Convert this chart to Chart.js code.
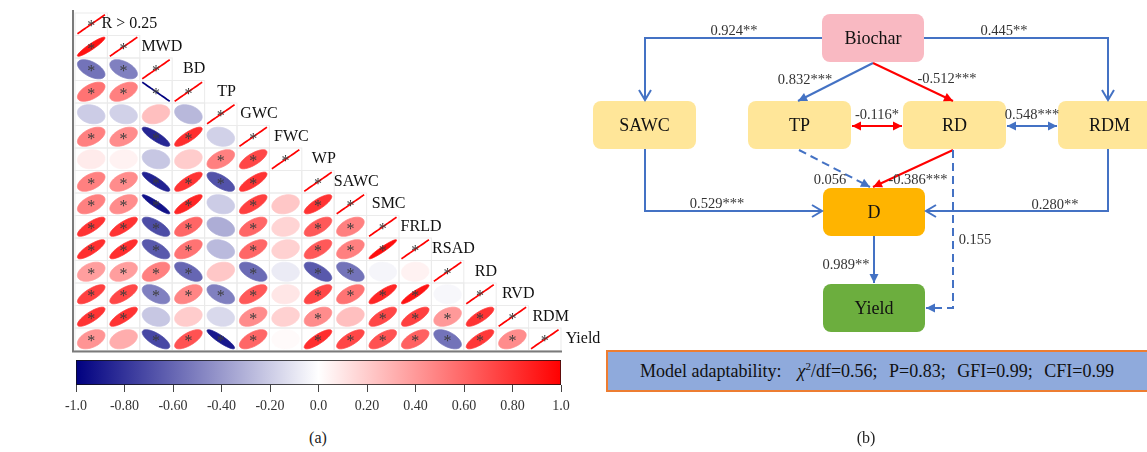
<!DOCTYPE html>
<html>
<head>
<meta charset="utf-8">
<script src="https://cdn.jsdelivr.net/npm/chart.js@4.4.1/dist/chart.umd.min.js"></script>
<style>
  html, body { margin: 0; padding: 0; background: #fff; width: 1147px; height: 452px; overflow: hidden; }
  body { position: relative; font-family: "Liberation Serif", "Times New Roman", serif; }
  .pane { position: absolute; }
  .caption { position: absolute; font-size: 16px; color: #222; transform: translate(-50%, -50%); white-space: nowrap; }
  #fitBox { position: absolute; left: 606px; top: 350px; width: 560px; height: 42px; background: #8FAADC;
            border: 2px solid #ED7D31; box-sizing: border-box; font-size: 18px; color: #111; line-height: 38px;
            padding-left: 32px; white-space: nowrap; }
  #fitBox sup { font-size: 11px; line-height: 0; }
  #fitBox .stats { margin-left: 16px; word-spacing: 7px; }
</style>
</head>
<body>
<div class="pane" style="left:0;top:0;width:615px;height:356px"><canvas id="matrix"></canvas></div>
<div class="pane" style="left:0;top:350px;width:615px;height:75px"><canvas id="colorbar"></canvas></div>
<div class="pane" style="left:590px;top:0;width:557px;height:452px"><canvas id="path"></canvas></div>
<div id="fitBox"></div>
<div class="caption" style="left:318px;top:438px">(a)</div>
<div class="caption" style="left:866px;top:438px">(b)</div>
<script>
// ---------- (a) correlation matrix ----------
const variables = ['R > 0.25', 'MWD', 'BD', 'TP', 'GWC', 'FWC', 'WP', 'SAWC', 'SMC', 'FRLD', 'RSAD', 'RD', 'RVD', 'RDM', 'Yield'];

// lower triangle: row i holds r(variable i, variable 0..i-1)
const corrRows = [
  [],
  [0.93],
  [-0.55, -0.50],
  [0.55, 0.50, -1.00],
  [-0.20, -0.18, 0.25, -0.28],
  [0.50, 0.45, -0.85, 0.82, -0.18],
  [0.08, 0.05, -0.22, 0.20, 0.50, 0.72],
  [0.50, 0.45, -0.87, 0.80, -0.68, 0.80, 0.00],
  [0.50, 0.45, -0.93, 0.85, -0.20, 0.75, 0.22, 0.80],
  [0.80, 0.80, -0.70, 0.60, -0.32, 0.60, 0.17, 0.65, 0.50],
  [0.82, 0.82, -0.65, 0.55, -0.27, 0.60, 0.18, 0.65, 0.50, 0.95],
  [0.38, 0.38, 0.50, -0.60, 0.22, -0.58, -0.08, -0.65, -0.55, -0.04, 0.05],
  [0.75, 0.72, -0.50, 0.48, -0.50, 0.65, 0.10, 0.72, 0.55, 0.85, 0.92, -0.03],
  [0.80, 0.80, -0.22, 0.20, -0.15, 0.45, 0.18, 0.45, 0.25, 0.72, 0.75, 0.40, 0.80],
  [0.42, 0.32, -0.72, 0.68, -0.90, 0.60, 0.02, 0.82, 0.72, 0.68, 0.62, -0.55, 0.78, 0.45]
];

// significance flags (1 = marked with *), same layout as corrRows
const sigRows = [
  [],
  [1],
  [1, 1],
  [1, 1, 1],
  [0, 0, 0, 0],
  [1, 1, 1, 1, 0],
  [0, 0, 0, 0, 1, 1],
  [1, 1, 1, 1, 1, 1, 0],
  [1, 1, 1, 1, 0, 1, 0, 1],
  [1, 1, 1, 1, 0, 1, 0, 1, 1],
  [1, 1, 1, 1, 0, 1, 0, 1, 1, 1],
  [1, 1, 1, 1, 0, 1, 0, 1, 1, 0, 0],
  [1, 1, 1, 1, 1, 1, 0, 1, 1, 1, 1, 0],
  [1, 1, 0, 0, 0, 1, 0, 1, 0, 1, 1, 1, 1],
  [1, 0, 1, 1, 1, 1, 0, 1, 1, 1, 1, 1, 1, 1]
];

// colour bar ticks
const barTicks = [-1, -0.8, -0.6, -0.4, -0.2, 0, 0.2, 0.4, 0.6, 0.8, 1];
const barTickLabels = ['-1.0', '-0.80', '-0.60', '-0.40', '-0.20', '0.0', '0.20', '0.40', '0.60', '0.80', '1.0'];

// navy - white - red colour ramp
function corrColor(r) {
  const t = Math.min(1, Math.abs(r));
  let c;
  if (r < 0) c = [255 * (1 - t), 255 * (1 - t), 255 - 127 * t];
  else c = [255, 255 * (1 - t), 255 * (1 - t)];
  return 'rgb(' + c.map(v => Math.round(v)).join(',') + ')';
}

// one point per lower-triangle cell (diagonal included)
const cells = [];
variables.forEach((name, i) => {
  for (let j = 0; j <= i; j++) {
    const diag = i === j;
    cells.push({ x: j, y: i, r: diag ? 1 : corrRows[i][j], sig: diag ? 1 : sigRows[i][j] });
  }
});

function drawEllipse(ctx, cx, cy, w, h, r) {
  const d = Math.acos(Math.max(-1, Math.min(1, r)));
  const col = corrColor(r);
  ctx.beginPath();
  for (let k = 0; k <= 96; k++) {
    const t = k / 96 * 2 * Math.PI;
    const ex = Math.cos(t + d / 2) / 2 * 0.85;
    const ey = Math.cos(t - d / 2) / 2 * 0.85;
    const px = cx + ex * w, py = cy - ey * h;
    if (k === 0) ctx.moveTo(px, py); else ctx.lineTo(px, py);
  }
  ctx.closePath();
  ctx.fillStyle = col;
  ctx.fill();
  ctx.strokeStyle = col;
  ctx.lineWidth = Math.abs(r) > 0.999 ? 1.7 : 0.8;
  ctx.stroke();
}

const matrixPlugin = {
  id: 'corrMatrix',
  afterDatasetsDraw(chart) {
    const { ctx, scales: { x: xs, y: ys } } = chart;
    const meta = chart.getDatasetMeta(0);
    const cw = xs.getPixelForValue(1) - xs.getPixelForValue(0);
    const ch = ys.getPixelForValue(1) - ys.getPixelForValue(0);
    ctx.save();
    // cell grid
    ctx.strokeStyle = '#ebebeb';
    ctx.lineWidth = 1;
    meta.data.forEach(el => ctx.strokeRect(el.x - cw / 2, el.y - ch / 2, cw, ch));
    // ellipses and significance marks
    meta.data.forEach((el, k) => {
      const c = cells[k];
      drawEllipse(ctx, el.x, el.y, cw, ch, c.r);
    });
    ctx.fillStyle = '#3c3c3c';
    ctx.font = '16px "Liberation Serif"';
    ctx.textAlign = 'center';
    ctx.textBaseline = 'middle';
    meta.data.forEach((el, k) => {
      if (cells[k].sig) ctx.fillText('*', el.x, el.y + 3);
    });
    // variable names beside the diagonal
    ctx.fillStyle = '#111';
    ctx.font = '16px "Liberation Serif"';
    variables.forEach((name, i) => {
      ctx.fillText(name, xs.getPixelForValue(i) + cw * 1.18, ys.getPixelForValue(i));
    });
    // left and bottom frame
    const a = chart.chartArea;
    ctx.strokeStyle = '#7a7a7a';
    ctx.lineWidth = 2;
    ctx.beginPath();
    ctx.moveTo(a.left - 2, a.top - 3);
    ctx.lineTo(a.left - 2, a.bottom + 1);
    ctx.lineTo(a.right + 1, a.bottom + 1);
    ctx.stroke();
    ctx.restore();
  }
};

new Chart(document.getElementById('matrix'), {
  type: 'scatter',
  data: { datasets: [{ data: cells, pointRadius: 0, pointHoverRadius: 0 }] },
  options: {
    responsive: true, maintainAspectRatio: false, animation: false, events: [],
    layout: { padding: { left: 75, top: 13, right: 54, bottom: 5.5 } },
    plugins: { legend: { display: false }, tooltip: { enabled: false } },
    scales: {
      x: { type: 'linear', min: -0.5, max: 14.5, display: false },
      y: { type: 'linear', min: -0.5, max: 14.5, reverse: true, display: false }
    }
  },
  plugins: [matrixPlugin]
});

// ---------- colour bar ----------
new Chart(document.getElementById('colorbar'), {
  type: 'bar',
  data: {
    labels: [''],
    datasets: [{
      data: [[barTicks[0], barTicks[barTicks.length - 1]]],
      backgroundColor: (c) => {
        const chart = c.chart;
        if (!chart.chartArea) return '#fff';
        const xs = chart.scales.x;
        const g = chart.ctx.createLinearGradient(xs.getPixelForValue(-1), 0, xs.getPixelForValue(1), 0);
        g.addColorStop(0, corrColor(-1));
        g.addColorStop(0.5, corrColor(0));
        g.addColorStop(1, corrColor(1));
        return g;
      },
      borderColor: '#111', borderWidth: 1, borderSkipped: false,
      barPercentage: 1, categoryPercentage: 1
    }]
  },
  options: {
    indexAxis: 'y',
    responsive: true, maintainAspectRatio: false, animation: false, events: [],
    layout: { padding: { left: 76, right: 54, top: 10, bottom: 0 } },
    plugins: { legend: { display: false }, tooltip: { enabled: false } },
    scales: {
      y: { display: false },
      x: {
        type: 'linear', min: -1, max: 1,
        afterBuildTicks: (axis) => { axis.ticks = barTicks.map(v => ({ value: v })); },
        afterFit: (s) => { s.paddingLeft = 0; s.paddingRight = 0; s.height = 40; },
        grid: { drawOnChartArea: false, drawTicks: true, tickLength: 7, color: '#444', lineWidth: 1 },
        border: { display: false },
        ticks: {
          autoSkip: false, maxRotation: 0, padding: 6, color: '#333',
          font: { family: 'Liberation Serif', size: 14 },
          callback: (v, i) => barTickLabels[i]
        }
      }
    }
  }
});

// ---------- (b) path diagram ----------
const nodeNames = ['Biochar', 'SAWC', 'TP', 'RD', 'RDM', 'D', 'Yield'];
const pathFrom = ['Biochar', 'Biochar', 'Biochar', 'Biochar', 'TP', 'RD', 'TP', 'RD', 'SAWC', 'RDM', 'D', 'RD'];
const pathTo   = ['SAWC', 'RDM', 'TP', 'RD', 'RD', 'RDM', 'D', 'D', 'D', 'D', 'Yield', 'Yield'];
const pathCoef = [0.924, 0.445, 0.832, -0.512, -0.116, 0.548, 0.056, -0.386, 0.529, 0.280, 0.989, 0.155];
const pathStars = ['**', '**', '***', '***', '*', '***', '', '***', '***', '**', '**', ''];
const pathTwoWay = [0, 0, 0, 0, 1, 1, 0, 0, 0, 0, 0, 0];

const fitLabels = ['<i>χ</i><sup>2</sup>/df', 'P', 'GFI', 'CFI'];
const fitValues = [0.56, 0.83, 0.99, 0.99];

// drawing layout (page pixels)
const nodeBox = {
  Biochar: [822, 14, 924, 62], SAWC: [593, 101, 696, 149], TP: [748, 101, 851, 149],
  RD: [903, 101, 1006, 149], RDM: [1058, 101, 1161, 149], D: [823, 188, 925, 236], Yield: [823, 284, 925, 332]
};
const nodeFill = {
  Biochar: '#F9B9C2', SAWC: '#FFE699', TP: '#FFE699', RD: '#FFE699', RDM: '#FFE699', D: '#FFB400', Yield: '#6CAE3E'
};
const pathRoute = {
  'Biochar-SAWC': { pts: [[822, 38], [645, 38], [645, 100]], lab: [734, 31], head: 'open' },
  'Biochar-RDM':  { pts: [[924, 38], [1108, 38], [1108, 100]], lab: [1004, 31], head: 'open' },
  'Biochar-TP':   { pts: [[873, 63], [798, 101]], lab: [805, 80], head: 'fill' },
  'Biochar-RD':   { pts: [[873, 63], [953, 101]], lab: [947, 79], head: 'fill' },
  'TP-RD':        { pts: [[852, 126], [902, 126]], lab: [877, 115], head: 'fill' },
  'RD-RDM':       { pts: [[1007, 126], [1057, 126]], lab: [1032, 115], head: 'fill' },
  'TP-D':         { pts: [[799, 150], [870, 187]], lab: [830, 180], head: 'fill' },
  'RD-D':         { pts: [[953, 150], [873, 187]], lab: [918, 180], head: 'fill' },
  'SAWC-D':       { pts: [[645, 149], [645, 211], [822, 211]], lab: [717, 204], head: 'open' },
  'RDM-D':        { pts: [[1108, 149], [1108, 211], [926, 211]], lab: [1055, 205], head: 'open' },
  'D-Yield':      { pts: [[874, 236], [874, 283]], lab: [846, 265], head: 'fill' },
  'RD-Yield':     { pts: [[953, 150], [953, 308], [926, 308]], lab: [975, 240], head: 'fill' }
};

function arrowHead(ctx, from, to, color, kind) {
  const a = Math.atan2(to[1] - from[1], to[0] - from[0]);
  const L = kind === 'open' ? 10 : 9, W = kind === 'open' ? 6 : 4.5;
  const bx = to[0] - L * Math.cos(a), by = to[1] - L * Math.sin(a);
  const px = -Math.sin(a) * W, py = Math.cos(a) * W;
  ctx.setLineDash([]);
  ctx.beginPath();
  if (kind === 'open') {
    ctx.moveTo(bx + px, by + py); ctx.lineTo(to[0], to[1]); ctx.lineTo(bx - px, by - py);
    ctx.strokeStyle = color; ctx.stroke();
  } else {
    ctx.moveTo(to[0], to[1]); ctx.lineTo(bx + px, by + py); ctx.lineTo(bx - px, by - py); ctx.closePath();
    ctx.fillStyle = color; ctx.fill();
  }
}

const pathPlugin = {
  id: 'pathDiagram',
  afterDatasetsDraw(chart) {
    const { ctx, scales: { x: xs, y: ys } } = chart;
    const P = (p) => [xs.getPixelForValue(p[0]), ys.getPixelForValue(p[1])];
    ctx.save();
    // boxes
    nodeNames.forEach(n => {
      const b = nodeBox[n];
      const p0 = P([b[0], b[1]]), p1 = P([b[2], b[3]]);
      ctx.beginPath();
      ctx.roundRect(p0[0], p0[1], p1[0] - p0[0], p1[1] - p0[1], 8);
      ctx.fillStyle = nodeFill[n];
      ctx.fill();
      ctx.fillStyle = '#111';
      ctx.font = '18px "Liberation Serif"';
      ctx.textAlign = 'center';
      ctx.textBaseline = 'middle';
      ctx.fillText(n, (p0[0] + p1[0]) / 2, (p0[1] + p1[1]) / 2 + 1);
    });
    // paths
    pathFrom.forEach((f, i) => {
      const route = pathRoute[f + '-' + pathTo[i]];
      const pts = route.pts.map(P);
      const color = pathCoef[i] < 0 ? '#FF0000' : '#4472C4';
      const dashed = pathStars[i] === '';
      ctx.strokeStyle = color;
      ctx.lineWidth = 2;
      ctx.setLineDash(dashed ? [8, 5] : []);
      ctx.beginPath();
      pts.forEach((p, k) => k ? ctx.lineTo(p[0], p[1]) : ctx.moveTo(p[0], p[1]));
      ctx.stroke();
      const n = pts.length;
      arrowHead(ctx, pts[n - 2], pts[n - 1], color, route.head);
      if (pathTwoWay[i]) arrowHead(ctx, pts[1], pts[0], color, route.head);
      const lp = P(route.lab);
      ctx.fillStyle = '#333';
      ctx.font = '14.5px "Liberation Serif"';
      ctx.textAlign = 'center';
      ctx.textBaseline = 'middle';
      ctx.fillText(pathCoef[i].toFixed(3) + pathStars[i], lp[0], lp[1]);
    });
    ctx.restore();
  }
};

new Chart(document.getElementById('path'), {
  type: 'scatter',
  data: {
    datasets: [{
      data: nodeNames.map(n => ({ x: (nodeBox[n][0] + nodeBox[n][2]) / 2, y: (nodeBox[n][1] + nodeBox[n][3]) / 2 })),
      pointRadius: 0, pointHoverRadius: 0
    }]
  },
  options: {
    responsive: true, maintainAspectRatio: false, animation: false, events: [],
    layout: { padding: 0 },
    plugins: { legend: { display: false }, tooltip: { enabled: false } },
    scales: {
      x: { type: 'linear', min: 590, max: 1147, display: false },
      y: { type: 'linear', min: 0, max: 452, reverse: true, display: false }
    }
  },
  plugins: [pathPlugin]
});

document.getElementById('fitBox').innerHTML = 'Model adaptability:<span class="stats">' +
  fitLabels.map((l, i) => l + '=' + fitValues[i].toFixed(2)).join('; ') + '</span>';
</script>
</body>
</html>
